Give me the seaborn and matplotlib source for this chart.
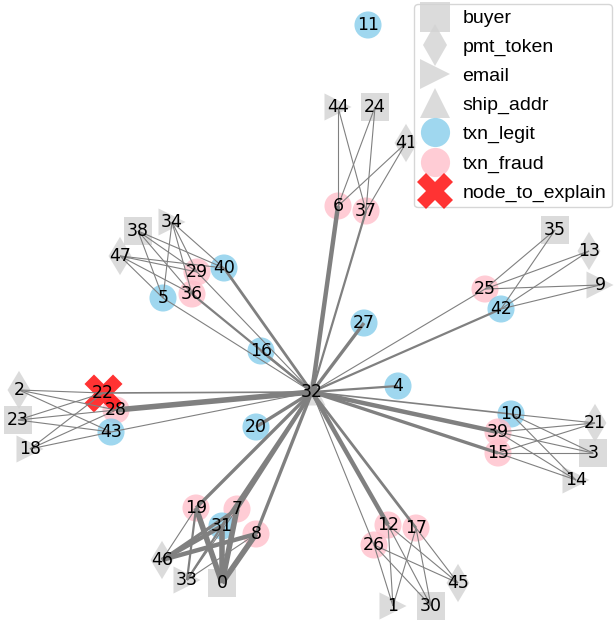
import numpy as np
import pandas as pd
import seaborn as sns
import matplotlib.pyplot as plt
from matplotlib.lines import Line2D

# node ids, kinds and layout positions (y up)
node_id = [11, 44, 24, 41, 6, 37, 34, 38, 47, 29, 40, 36, 5, 35, 13, 25, 9, 42,
           27, 16, 4, 32, 2, 22, 28, 23, 43, 18, 20, 10, 39, 15, 21, 3, 14,
           19, 7, 31, 8, 46, 33, 0, 12, 17, 26, 45, 1, 30]
node_kind = ['txn_legit', 'email', 'buyer', 'pmt_token', 'txn_fraud', 'txn_fraud',
             'email', 'buyer', 'pmt_token', 'txn_fraud', 'txn_legit', 'txn_fraud', 'txn_legit',
             'buyer', 'pmt_token', 'txn_fraud', 'email', 'txn_legit',
             'txn_legit', 'txn_legit', 'txn_legit', 'ship_addr', 'pmt_token', 'node_to_explain',
             'txn_fraud', 'buyer', 'txn_legit', 'email', 'txn_legit', 'txn_legit', 'txn_fraud',
             'txn_fraud', 'pmt_token', 'buyer', 'email',
             'txn_fraud', 'txn_fraud', 'txn_legit', 'txn_fraud', 'pmt_token', 'email', 'buyer',
             'txn_fraud', 'txn_fraud', 'txn_fraud', 'pmt_token', 'email', 'buyer']
node_x = [368, 338, 375, 406, 338, 366, 172, 138, 120, 197, 224, 192, 163, 555, 589, 485, 600, 501,
          364, 261, 398, 312, 19, 103, 116, 18, 111, 30, 256, 511, 498, 498, 595, 593, 576,
          196, 237, 222, 256, 162, 187, 222, 388, 416, 374, 458, 393, 431]
node_y = [595, 513, 513, 477, 414, 409, 398, 389, 364, 348, 352, 326, 322, 390, 369, 331, 335, 311,
          297, 269, 234, 228, 230, 227, 210, 200, 188, 171, 193, 206, 188, 167, 197, 167, 140,
          112, 111, 94, 86, 60, 40, 37, 95, 92, 75, 37, 14, 14]

# edges (source, target, weight)
edge_src = [32, 32, 32, 32, 32, 32, 32, 32, 32, 32, 32, 32, 32, 32, 32, 32, 32, 32, 32, 32, 32, 32, 32, 32, 32,
            6, 6, 6, 37, 37, 37,
            29, 29, 29, 40, 40, 40, 36, 36, 36, 5, 5, 5,
            25, 25, 25, 42, 42, 42,
            22, 22, 22, 28, 28, 28, 43, 43, 43,
            10, 10, 10, 39, 39, 39, 15, 15, 15,
            19, 19, 19, 7, 7, 7, 31, 31, 31, 8, 8, 8,
            12, 12, 12, 17, 17, 17, 26, 26, 26]
edge_dst = [6, 37, 27, 16, 40, 29, 36, 5, 25, 42, 4, 10, 39, 15, 12, 17, 26, 7, 8, 31, 19, 20, 28, 43, 22,
            44, 24, 41, 44, 24, 41,
            34, 38, 47, 34, 38, 47, 34, 38, 47, 34, 38, 47,
            35, 13, 9, 35, 13, 9,
            2, 23, 18, 2, 23, 18, 2, 23, 18,
            21, 3, 14, 21, 3, 14, 21, 3, 14,
            46, 33, 0, 46, 33, 0, 46, 33, 0, 46, 33, 0,
            45, 1, 30, 45, 1, 30, 45, 1, 30]
edge_w = [4, 2, 3, 2, 2.5, 1, 2, 1, 1, 2, 2, 1.5, 4, 3, 4, 2.5, 1, 3.5, 3, 3, 3, 3, 5, 1, 1.5,
          1, 1, 1, 1, 1, 1,
          1, 1, 1, 1, 1, 1, 1, 1, 1, 1, 1, 1,
          1, 1, 1, 1, 1, 1,
          1, 1, 1, 1, 1, 1, 1, 1, 1,
          1, 1, 1, 1, 1, 1, 1, 1, 1,
          1, 2, 5, 3, 1, 5, 4, 2, 5, 4, 1, 5,
          1, 1, 1, 1, 1, 1, 1, 1, 1]

kinds = ['buyer', 'pmt_token', 'email', 'ship_addr', 'txn_legit', 'txn_fraud', 'node_to_explain']
colors = {'buyer': 'lightgray', 'pmt_token': 'lightgray', 'email': 'lightgray', 'ship_addr': 'lightgray',
          'txn_legit': 'skyblue', 'txn_fraud': 'pink', 'node_to_explain': 'red'}
markers = {'buyer': 's', 'pmt_token': 'd', 'email': '>', 'ship_addr': '^',
           'txn_legit': 'o', 'txn_fraud': 'o', 'node_to_explain': 'X'}

df = pd.DataFrame({'id': node_id, 'kind': node_kind, 'x': node_x, 'y': node_y})
pos = {n: (x, y) for n, x, y in zip(node_id, node_x, node_y)}
is_x = df['kind'] == 'node_to_explain'

sns.set_style('white')
plt.rcParams['font.family'] = ['DejaVu Sans']
plt.rcParams['text.color'] = 'black'
fig = plt.figure(figsize=(6.16, 6.20), dpi=100)
ax = fig.add_axes([0, 0, 1, 1])

sns.scatterplot(data=df[~is_x], x='x', y='y', hue='kind', style='kind',
                hue_order=kinds[:-1], style_order=kinds[:-1],
                palette=colors, markers=markers, s=380, alpha=0.8, linewidth=0, ax=ax, zorder=1, legend=False)
sns.scatterplot(data=df[is_x], x='x', y='y', color='red', marker='X', s=750, alpha=0.8,
                linewidth=0, ax=ax, zorder=1, legend=False)

for a, b, w in zip(edge_src, edge_dst, edge_w):
    ax.plot([pos[a][0], pos[b][0]], [pos[a][1], pos[b][1]], color='gray', lw=w * 0.8, zorder=2,
            solid_capstyle='butt')

for n, x, y in zip(node_id, node_x, node_y):
    ax.text(x, y, str(n), ha='center', va='center', fontsize=12.5, color='black', zorder=3)

handles = [Line2D([], [], ls='', marker=markers[k], color=colors[k], alpha=0.8,
                  ms=26 if k == 'node_to_explain' else 21, mew=0) for k in kinds]
leg = ax.legend(handles, kinds, loc='upper right', prop={'family': 'Liberation Sans', 'size': 14},
                labelspacing=0.58, handletextpad=0.6, borderpad=0.3, handlelength=1.6, borderaxespad=0.2)
for t in leg.get_texts():
    t.set_color('black')

ax.set_xlim(0, 616)
ax.set_ylim(0, 620)
ax.set_axis_off()
fig.savefig('out.png', dpi=100)
plt.close()
